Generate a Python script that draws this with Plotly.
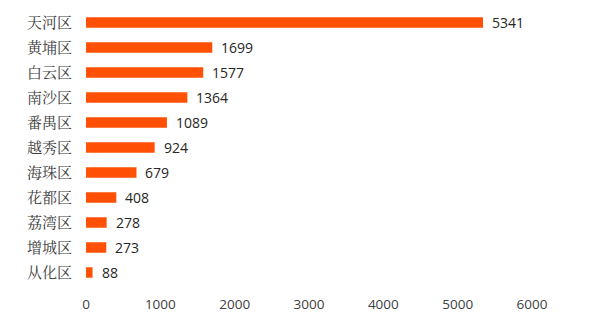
import plotly.graph_objects as go

districts = ["天河区", "黄埔区", "白云区", "南沙区", "番禺区", "越秀区", "海珠区", "花都区", "荔湾区", "增城区", "从化区"]
values = [5341, 1699, 1577, 1364, 1089, 924, 679, 408, 278, 273, 88]
x_ticks = [0, 1000, 2000, 3000, 4000, 5000, 6000]

fig = go.Figure(go.Bar(
    x=values, y=districts, orientation="h",
    marker=dict(color="#FF5005", line=dict(width=0)),
    width=0.42,
))
for d, v in zip(districts, values):
    fig.add_annotation(x=v, y=d, text=str(v), showarrow=False, xanchor="left", xshift=7,
                       font=dict(family="Open Sans, Liberation Sans, sans-serif", size=14, color="#262626"))
fig.update_layout(
    width=600, height=329,
    margin=dict(l=86, r=68, t=10, b=44),
    paper_bgcolor="white", plot_bgcolor="white",
    showlegend=False,
    xaxis=dict(range=[0, 6000], tickvals=x_ticks, showgrid=False, zeroline=False,
               showline=False, ticks="",
               tickfont=dict(family="Open Sans, Liberation Sans, sans-serif", size=13.5, color="#404040"),
               ticklabelstandoff=9),
    yaxis=dict(autorange="reversed", showgrid=False, showline=False, ticks="",
               tickfont=dict(family="Noto Serif CJK SC, Noto Sans CJK SC, serif", size=15, color="#404040"),
               ticklabelstandoff=13),
)
fig.write_html("out.html")
